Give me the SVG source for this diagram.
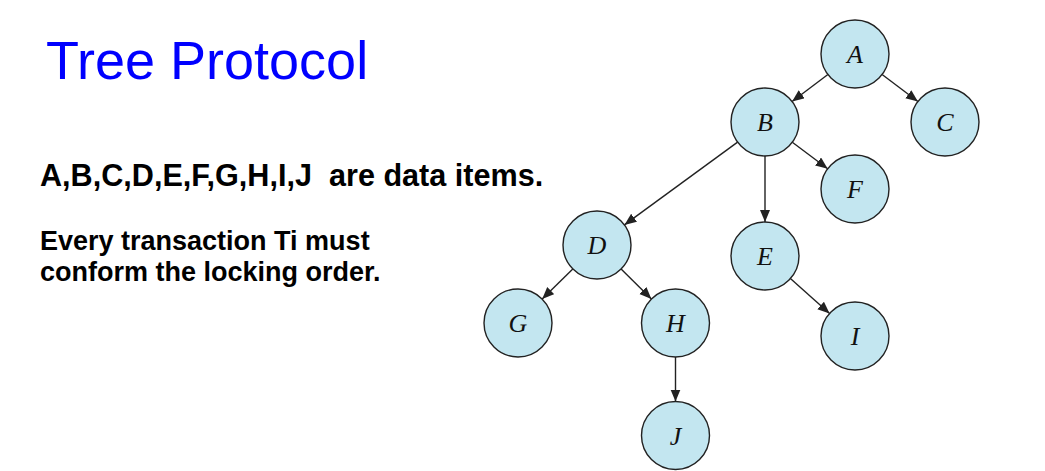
<svg xmlns="http://www.w3.org/2000/svg" width="1045" height="471" viewBox="0 0 1045 471">
<style>
.node circle{fill:#c3e6f0;stroke:#222;stroke-width:1.4}
.node text{font-family:"Liberation Serif",serif;font-style:italic;font-size:26px;fill:#111;text-anchor:middle}
.edge{stroke:#222;stroke-width:1.4;fill:none;marker-end:url(#arr)}
.body{font-family:"Liberation Sans",Arial,sans-serif;font-weight:bold;fill:#000}
</style>
<defs>
<marker id="arr" markerUnits="userSpaceOnUse" markerWidth="13" markerHeight="11" refX="12" refY="5" orient="auto">
<path d="M0,0 L12,5 L0,10 z" fill="#222"/>
</marker>
</defs>
<rect width="1045" height="471" fill="#fff"/>
<text x="46" y="79" font-family="Liberation Sans, Arial, sans-serif" font-size="54" fill="#0000ff">Tree Protocol</text>
<text class="body" x="40" y="186" font-size="30.6" xml:space="preserve">A,B,C,D,E,F,G,H,I,J  are data items.</text>
<text class="body" x="40" y="250" font-size="27">Every transaction Ti must</text>
<text class="body" x="40" y="281" font-size="27">conform the locking order.</text>
<g id="connectors">
<line class="edge" x1="827.9" y1="74.5" x2="792.1" y2="101.5"/>
<line class="edge" x1="882.1" y1="74.5" x2="917.9" y2="101.5"/>
<line class="edge" x1="792.3" y1="142.3" x2="827.7" y2="168.7"/>
<line class="edge" x1="765" y1="156" x2="765" y2="222"/>
<line class="edge" x1="737.6" y1="142.1" x2="624.4" y2="224.9"/>
<line class="edge" x1="572.8" y1="268.9" x2="542.2" y2="299.1"/>
<line class="edge" x1="621.1" y1="269" x2="651.4" y2="299"/>
<line class="edge" x1="675.5" y1="357" x2="675.5" y2="401.5"/>
<line class="edge" x1="790.4" y1="278.6" x2="829.6" y2="313.4"/>
</g>
<g id="node-A" class="node"><circle cx="855" cy="54" r="34"/><text x="855" y="63">A</text></g>
<g id="node-B" class="node"><circle cx="765" cy="122" r="34"/><text x="765" y="131">B</text></g>
<g id="node-C" class="node"><circle cx="945" cy="122" r="34"/><text x="945" y="131">C</text></g>
<g id="node-F" class="node"><circle cx="855" cy="189" r="34"/><text x="855" y="198">F</text></g>
<g id="node-D" class="node"><circle cx="597" cy="245" r="34"/><text x="597" y="254">D</text></g>
<g id="node-E" class="node"><circle cx="765" cy="256" r="34"/><text x="765" y="265">E</text></g>
<g id="node-G" class="node"><circle cx="518" cy="323" r="34"/><text x="518" y="332">G</text></g>
<g id="node-H" class="node"><circle cx="675.5" cy="323" r="34"/><text x="675.5" y="332">H</text></g>
<g id="node-I" class="node"><circle cx="855" cy="336" r="34"/><text x="855" y="345">I</text></g>
<g id="node-J" class="node"><circle cx="675.5" cy="435.5" r="34"/><text x="675.5" y="444.5">J</text></g>
</svg>
